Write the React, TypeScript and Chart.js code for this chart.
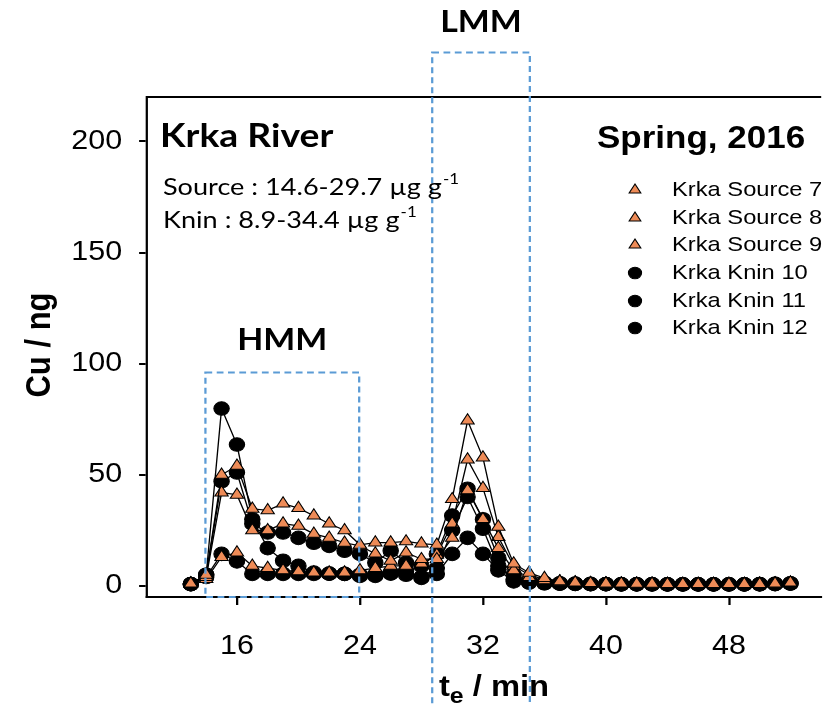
import React, { useEffect, useRef } from 'react';
import { Chart, registerables } from 'chart.js';

Chart.register(...registerables);

// ---- data ----
const times = [13, 14, 15, 16, 17, 18, 19, 20, 21, 22, 23, 24, 25, 26, 27, 28, 29, 30, 31, 32, 33, 34, 35, 36, 37, 38, 39, 40, 41, 42, 43, 44, 45, 46, 47, 48, 49, 50, 51, 52];

const source7 = [1, 5, 50, 54, 34.7, 34, 37, 35, 31.6, 28, 25, 18.5, 19.5, 19.5, 20, 19, 18.5, 39, 74.4, 57.7, 26.6, 10, 5.9, 3.5, 2, 1.5, 1.2, 1, 1, 0.9, 0.9, 0.8, 0.8, 0.8, 0.8, 0.8, 0.8, 0.8, 1, 1.5];
const source8 = [1, 4, 42, 41, 25, 25, 28, 27, 23.4, 21.6, 19.4, 18, 14.5, 11.3, 15, 12, 12, 21.6, 43, 30, 17, 7, 4, 2.5, 1.8, 1.3, 1, 0.9, 0.8, 0.8, 0.8, 0.7, 0.7, 0.7, 0.7, 0.7, 0.7, 0.8, 0.9, 1.2];
const source9 = [1, 3, 13, 15, 9, 8, 7, 6.5, 6, 6, 6, 7, 8, 9, 9, 10, 14, 28, 56.8, 44, 22, 9, 5, 2.8, 2, 1.5, 1.2, 1, 0.9, 0.9, 0.8, 0.8, 0.8, 0.8, 0.8, 0.8, 0.8, 0.9, 1, 1.3];
const knin10 = [0.8, 5, 79.8, 63.6, 30, 17, 11.3, 9, 6, 5.5, 5.4, 5, 4.5, 5.9, 6.8, 3.6, 5.4, 14.4, 21.6, 14.4, 7, 2, 1.5, 1.2, 1, 0.9, 0.8, 0.8, 0.7, 0.7, 0.7, 0.7, 0.7, 0.7, 0.7, 0.7, 0.7, 0.7, 0.8, 1];
const knin11 = [0.8, 5, 47, 51, 28, 24, 24, 21.6, 19.4, 18, 15.8, 14.4, 10.4, 15.8, 10.4, 9, 14.4, 31.6, 43.7, 30, 12.6, 5, 2.3, 1.5, 1.2, 1, 0.9, 0.8, 0.8, 0.8, 0.8, 0.7, 0.7, 0.7, 0.7, 0.7, 0.7, 0.8, 0.9, 1.2];
const knin12 = [0.8, 4, 14.4, 11, 5.4, 5.4, 5.4, 5.4, 5.4, 5.5, 5.4, 4.5, 5, 5.5, 5, 4, 8, 25, 40, 25.7, 9, 3, 1.5, 1.2, 1, 0.9, 0.8, 0.8, 0.7, 0.7, 0.7, 0.7, 0.7, 0.7, 0.7, 0.7, 0.7, 0.8, 0.9, 1.1];

const seriesLabels = ['Krka Source 7', 'Krka Source 8', 'Krka Source 9', 'Krka Knin 10', 'Krka Knin 11', 'Krka Knin 12'];
const xTickValues = [16, 24, 32, 40, 48];
const yTickValues = [0, 50, 100, 150, 200];
const xRange = [10.15, 54.0];
const yRange = [-5, 220];

// fraction regions (data units)
const hmmBox = { x0: 13.95, x1: 23.95, y0: -5, y1: 96 };
const lmmBox = { x0: 28.7, x1: 35.05, y0: -70, y1: 240 };

const riverTitle = 'Krka River';
const seasonTitle = 'Spring, 2016';
const rangeLines = ['Source : 14.6-29.7 \u00b5g g', 'Knin : 8.9-34.4 \u00b5g g'];

const ORANGE = '#EE8B57';
const BLUE = '#5B9BD5';
const ARIAL = "'Liberation Sans', Arial, sans-serif";
const CAL = "Lato, 'Open Sans', sans-serif";

// the reference picture is horizontally stretched: draw on a narrower logical canvas and stretch it
const OUT_W = 830;
const OUT_H = 706;
const LOG_W = 735;
const SX = OUT_W / LOG_W;
const lx = (px: number) => px / SX;

const overlayPlugin = {
  id: 'overlay',
  afterDatasetsDraw(chart: any) {
    const ctx = chart.ctx as CanvasRenderingContext2D;
    const xs = chart.scales.x;
    const ys = chart.scales.y;
    const { left, right, top } = chart.chartArea;
    ctx.save();
    ctx.strokeStyle = '#000';
    ctx.lineWidth = 2;
    ctx.beginPath();
    ctx.moveTo(left, top);
    ctx.lineTo(right, top);
    ctx.stroke();

    ctx.strokeStyle = BLUE;
    ctx.lineWidth = 2;
    ctx.setLineDash([6, 4]);
    const box = (b: any) => {
      const x0 = xs.getPixelForValue(b.x0);
      const x1 = xs.getPixelForValue(b.x1);
      const y0 = ys.getPixelForValue(b.y0);
      const y1 = ys.getPixelForValue(b.y1);
      ctx.strokeRect(x0, y1, x1 - x0, y0 - y1);
      return { x0, x1, y0, y1 };
    };
    const h = box(hmmBox);
    const l = box(lmmBox);
    ctx.setLineDash([]);

    ctx.fillStyle = '#000';
    ctx.textBaseline = 'middle';
    ctx.textAlign = 'center';
    ctx.font = `bold 30px ${CAL}`;
    ctx.fillText('HMM', (h.x0 + h.x1) / 2, h.y1 - 32);
    ctx.fillText('LMM', (l.x0 + l.x1) / 2, 22);

    ctx.textAlign = 'left';
    ctx.font = `bold 33px ${CAL}`;
    ctx.fillText(riverTitle, lx(160), 136);
    const ry = [187, 220];
    rangeLines.forEach((t, i) => {
      ctx.font = `24px ${CAL}`;
      ctx.fillText(t, lx(163), ry[i]);
      const w = ctx.measureText(t).width;
      ctx.font = `15px ${CAL}`;
      ctx.fillText('-1', lx(163) + w + 1, ry[i] - 8);
    });

    ctx.font = `bold 31px ${ARIAL}`;
    ctx.fillText(seasonTitle, lx(597), 139);

    const rows = [190, 218, 245, 273, 301, 328];
    chart.data.datasets.forEach((ds: any, i: number) => {
      const y = rows[i];
      const x = lx(635);
      ctx.lineWidth = 1;
      ctx.strokeStyle = '#000';
      ctx.fillStyle = ds.pointBackgroundColor;
      ctx.beginPath();
      if (ds.pointStyle === 'triangle') {
        const r = 6;
        ctx.moveTo(x, y - r);
        ctx.lineTo(x + r * 0.866, y + r * 0.5);
        ctx.lineTo(x - r * 0.866, y + r * 0.5);
        ctx.closePath();
      } else {
        ctx.arc(x, y, 5.8, 0, Math.PI * 2);
      }
      ctx.fill();
      ctx.stroke();
      ctx.fillStyle = '#000';
      ctx.font = `21px ${ARIAL}`;
      ctx.fillText(ds.label, lx(672), y);
    });

    ctx.save();
    ctx.translate(lx(40), 345);
    ctx.rotate(-Math.PI / 2);
    ctx.textAlign = 'center';
    ctx.font = `bold 31px ${ARIAL}`;
    ctx.fillText('Cu / ng', 0, 0);
    ctx.restore();

    ctx.textAlign = 'left';
    ctx.font = `bold 29px ${ARIAL}`;
    const tW = ctx.measureText('t').width;
    ctx.font = `bold 22px ${ARIAL}`;
    const eW = ctx.measureText('e').width;
    ctx.font = `bold 29px ${ARIAL}`;
    const restW = ctx.measureText(' / min').width;
    const total = tW + eW + restW;
    let sx = lx(494) - total / 2;
    ctx.fillText('t', sx, 688);
    sx += tW;
    ctx.font = `bold 22px ${ARIAL}`;
    ctx.fillText('e', sx, 697);
    sx += eW;
    ctx.font = `bold 29px ${ARIAL}`;
    ctx.fillText(' / min', sx, 688);

    ctx.restore();
  },
};

const allSeries = [source7, source8, source9, knin10, knin11, knin12];

export default function App() {
  const ref = useRef<HTMLCanvasElement>(null);
  useEffect(() => {
    const canvas = ref.current;
    if (!canvas) return;
    const datasets = allSeries.map((vals, i) => {
      const tri = i < 3;
      return {
        label: seriesLabels[i],
        data: times.map((t, k) => ({ x: t, y: vals[k] })),
        borderColor: '#000',
        borderWidth: 1.2,
        pointStyle: tri ? 'triangle' : 'circle',
        pointRadius: tri ? 6.8 : 6.8,
        pointBackgroundColor: tri ? ORANGE : '#000',
        pointBorderColor: '#000',
        pointBorderWidth: 1,
        tension: 0,
        fill: false,
      };
    });
    const chart = new Chart(canvas, {
      type: 'line',
      data: { datasets },
      options: {
        animation: false,
        responsive: false,
        devicePixelRatio: 1,
        events: [],
        layout: { padding: { top: 97, right: 0, left: 0, bottom: 0 } },
        plugins: { legend: { display: false }, tooltip: { enabled: false }, title: { display: false } },
        scales: {
          x: {
            type: 'linear',
            min: xRange[0],
            max: xRange[1],
            afterBuildTicks: (s: any) => { s.ticks = xTickValues.map((v) => ({ value: v })); },
            afterFit: (s: any) => { s.height = 109; },
            grid: { drawOnChartArea: false, drawTicks: true, tickLength: 8, color: '#000', lineWidth: 2 },
            border: { display: true, color: '#000', width: 2 },
            ticks: { color: '#000', padding: 25, font: { family: ARIAL, size: 27 }, maxRotation: 0, autoSkip: false },
          },
          y: {
            type: 'linear',
            min: yRange[0],
            max: yRange[1],
            afterBuildTicks: (s: any) => { s.ticks = yTickValues.map((v) => ({ value: v })); },
            afterFit: (s: any) => { s.width = lx(147); },
            grid: { drawOnChartArea: false, drawTicks: true, tickLength: 7, color: '#000', lineWidth: 2 },
            border: { display: true, color: '#000', width: 2 },
            ticks: { color: '#000', padding: 15, font: { family: ARIAL, size: 27 }, autoSkip: false },
          },
        },
      },
      plugins: [overlayPlugin],
    } as any);
    // stretch the drawing horizontally onto the full-size canvas
    canvas.width = OUT_W;
    canvas.height = OUT_H;
    canvas.style.width = OUT_W + 'px';
    canvas.style.height = OUT_H + 'px';
    const ctx = canvas.getContext('2d');
    if (ctx) ctx.setTransform(SX, 0, 0, 1, 0, 0);
    chart.draw();
    return () => chart.destroy();
  }, []);
  return (
    <div style={{ position: 'absolute', left: 0, top: 0, width: OUT_W, height: OUT_H, overflow: 'hidden', background: '#fff' }}>
      <canvas ref={ref} width={LOG_W} height={OUT_H} style={{ display: 'block' }} />
    </div>
  );
}
